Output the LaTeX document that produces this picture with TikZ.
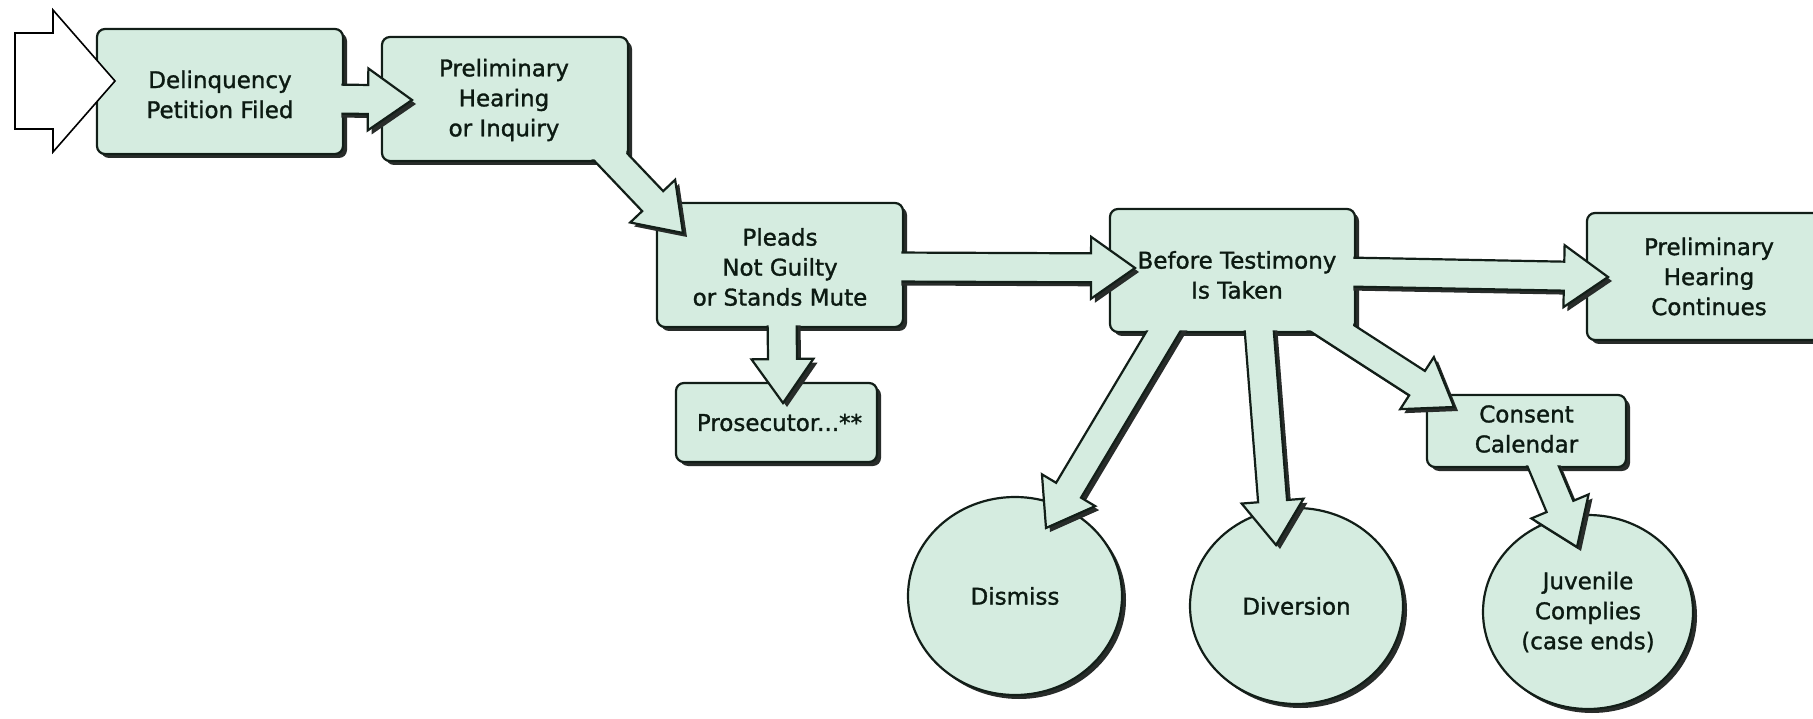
\documentclass[tikz,border=0pt]{standalone}
\usepackage{fontspec}
\setmainfont{DejaVu Sans}
\newfontfamily\lblface[FakeBold=1.3]{DejaVu Sans}
\usetikzlibrary{calc,shapes.geometric,shadows}
\definecolor{mint}{RGB}{213,236,224}
\definecolor{edgec}{RGB}{18,30,24}
\definecolor{shad}{RGB}{40,44,42}
\definecolor{txt}{RGB}{12,26,18}
\newcommand\lblfont{\lblface\fontsize{23}{30}\selectfont}
\tikzset{
  boxshape/.style={draw=edgec, line width=2.2pt, fill=mint, rounded corners=8pt,
    outer sep=0pt, inner sep=0pt,
    drop shadow={shadow xshift=4pt, shadow yshift=-4pt, opacity=1, fill=shad}},
  discshape/.style={ellipse, draw=edgec, line width=2.2pt, fill=mint, outer sep=0pt,
    inner sep=0pt, font=\lblfont, text=txt, align=center,
    drop shadow={shadow xshift=4pt, shadow yshift=-4pt, opacity=1, fill=shad}},
  lbl/.style={font=\lblfont, text=txt, align=center, inner sep=0pt},
  arrline/.style={draw=edgec, line width=2.2pt, line join=miter},
}
% block arrow from coordinate #1 (tail, inside source) to coordinate #2 (tip)
\newcommand\barrow[2]{%
  \coordinate (hbc) at ($(#2)!44pt!(#1)$);
  \coordinate (pa1) at ($(#1)!14.5pt!90:(#2)$);
  \coordinate (pb1) at ($(#1)!14.5pt!-90:(#2)$);
  \coordinate (pa2) at ($(hbc)!14.5pt!90:(#2)$);
  \coordinate (pb2) at ($(hbc)!14.5pt!-90:(#2)$);
  \coordinate (pa3) at ($(hbc)!31pt!90:(#2)$);
  \coordinate (pb3) at ($(hbc)!31pt!-90:(#2)$);
  \begin{scope}[transform canvas={shift={(4pt,-4pt)}}]
    \fill[shad] (pa1) -- (pa2) -- (pa3) -- (#2) -- (pb3) -- (pb2) -- (pb1) -- cycle;
  \end{scope}
  \fill[mint] (pa1) -- (pa2) -- (pa3) -- (#2) -- (pb3) -- (pb2) -- (pb1) -- cycle;
  \draw[arrline] (pa1) -- (pa2) -- (pa3) -- (#2) -- (pb3) -- (pb2) -- (pb1);
}
% cover the tail of outgoing arrows inside a box
\newcommand\refill[1]{%
  \fill[mint, rounded corners=7pt] ($(#1.north west)+(1.7,1.7)$) rectangle ($(#1.south east)+(-1.7,-1.7)$);
}
\begin{document}
\begin{tikzpicture}[x=1pt,y=-1pt]
\useasboundingbox (0,0) rectangle (1813,719);
\clip (0,0) rectangle (1813,719);
\fill[white] (0,0) rectangle (1813,719);

% sinks
\node[discshape, minimum width=214pt, minimum height=198pt] (dismiss) at (1015,596) {Dismiss};
\node[discshape, minimum width=213pt, minimum height=196pt] (divers) at (1296.5,606) {Diversion};
\node[discshape, minimum width=210pt, minimum height=194pt] (juven) at (1588,612) {Juvenile\\Complies\\(case ends)};
\node[boxshape, minimum width=244pt, minimum height=127pt, font=\lblfont, text=txt, align=center] (cont) at (1709,276.5) {Preliminary\\Hearing\\Continues};
\node[boxshape, minimum width=201pt, minimum height=79pt, font=\lblfont, text=txt] (prosec) at (776.5,422.5) {\hspace*{6pt}Prosecutor...**};

% consent calendar
\node[boxshape, minimum width=199pt, minimum height=72pt] (consent) at (1526.5,431) {};
\coordinate (i-s) at ($(consent)+(8.5,16)$);
\coordinate (i-t) at ($(juven)+(-11,-65)$);
\barrow{i-s}{i-t}
\refill{consent}
\node[lbl] (consent-t) at ($(consent)+(0,-2)$) {\lblface\fontsize{23}{28}\selectfont Consent\\Calendar};

% before testimony
\node[boxshape, minimum width=245pt, minimum height=123pt] (before) at (1232.5,270.5) {};
\coordinate (e-s) at ($(before.east)+(-10,1.5)$);
\coordinate (e-t) at ($(cont.west)+(21,0.5)$);
\coordinate (f-s) at ($(before)+(-57.5,41.5)$);
\coordinate (f-t) at ($(dismiss)+(31,-68)$);
\coordinate (g-s) at ($(before)+(25.5,44.5)$);
\coordinate (g-t) at ($(divers)+(-20.5,-61)$);
\coordinate (h-s) at ($(before)+(77.5,43.5)$);
\coordinate (h-t) at ($(consent.north west)+(27,12)$);
\barrow{e-s}{e-t}
\barrow{f-s}{f-t}
\barrow{g-s}{g-t}
\barrow{h-s}{h-t}
\refill{before}
\node[lbl] (before-t) at ($(before)+(4.5,4.5)$) {Before Testimony\\Is Taken};

% pleads
\node[boxshape, minimum width=246pt, minimum height=124pt] (pleads) at (780,265) {};
\coordinate (c-s) at ($(pleads.east)+(-13,2)$);
\coordinate (c-t) at ($(before.west)+(25,-2.5)$);
\coordinate (d-s) at ($(pleads.south)+(2,-12)$);
\coordinate (d-t) at ($(prosec.north)+(6.5,20)$);
\barrow{c-s}{c-t}
\barrow{d-s}{d-t}
\refill{pleads}
\node[lbl] (pleads-t) at ($(pleads)+(0,2)$) {Pleads\\Not Guilty\\or Stands Mute};

% preliminary hearing or inquiry
\node[boxshape, minimum width=246pt, minimum height=124pt] (prelim) at (505,99) {};
\coordinate (b-s) at ($(prelim)+(80,31)$);
\coordinate (b-t) at ($(pleads.north west)+(26,30)$);
\barrow{b-s}{b-t}
\refill{prelim}
\node[lbl] (prelim-t) at ($(prelim)+(-1,1)$) {Preliminary\\Hearing\\or Inquiry};

% delinquency petition filed
\node[boxshape, minimum width=246pt, minimum height=125pt] (delinq) at (220,91.5) {};
\coordinate (a-s) at ($(delinq)+(110,7.5)$);
\coordinate (a-t) at ($(prelim.west)+(30,1)$);
\barrow{a-s}{a-t}
\refill{delinq}
\node[lbl] (delinq-t) at ($(delinq)+(0,3)$) {\lblface\fontsize{23}{28}\selectfont Delinquency\\Petition Filed};

% entry arrow
\coordinate (entry-t) at ($(delinq.west)+(18,-10.5)$);
\draw[fill=white, draw=black, line width=1.6pt, line join=miter]
  (15,33) -- (53,33) -- (53,10) -- (entry-t) -- (53,152) -- (53,129) -- (15,129) -- cycle;
\end{tikzpicture}
\end{document}
